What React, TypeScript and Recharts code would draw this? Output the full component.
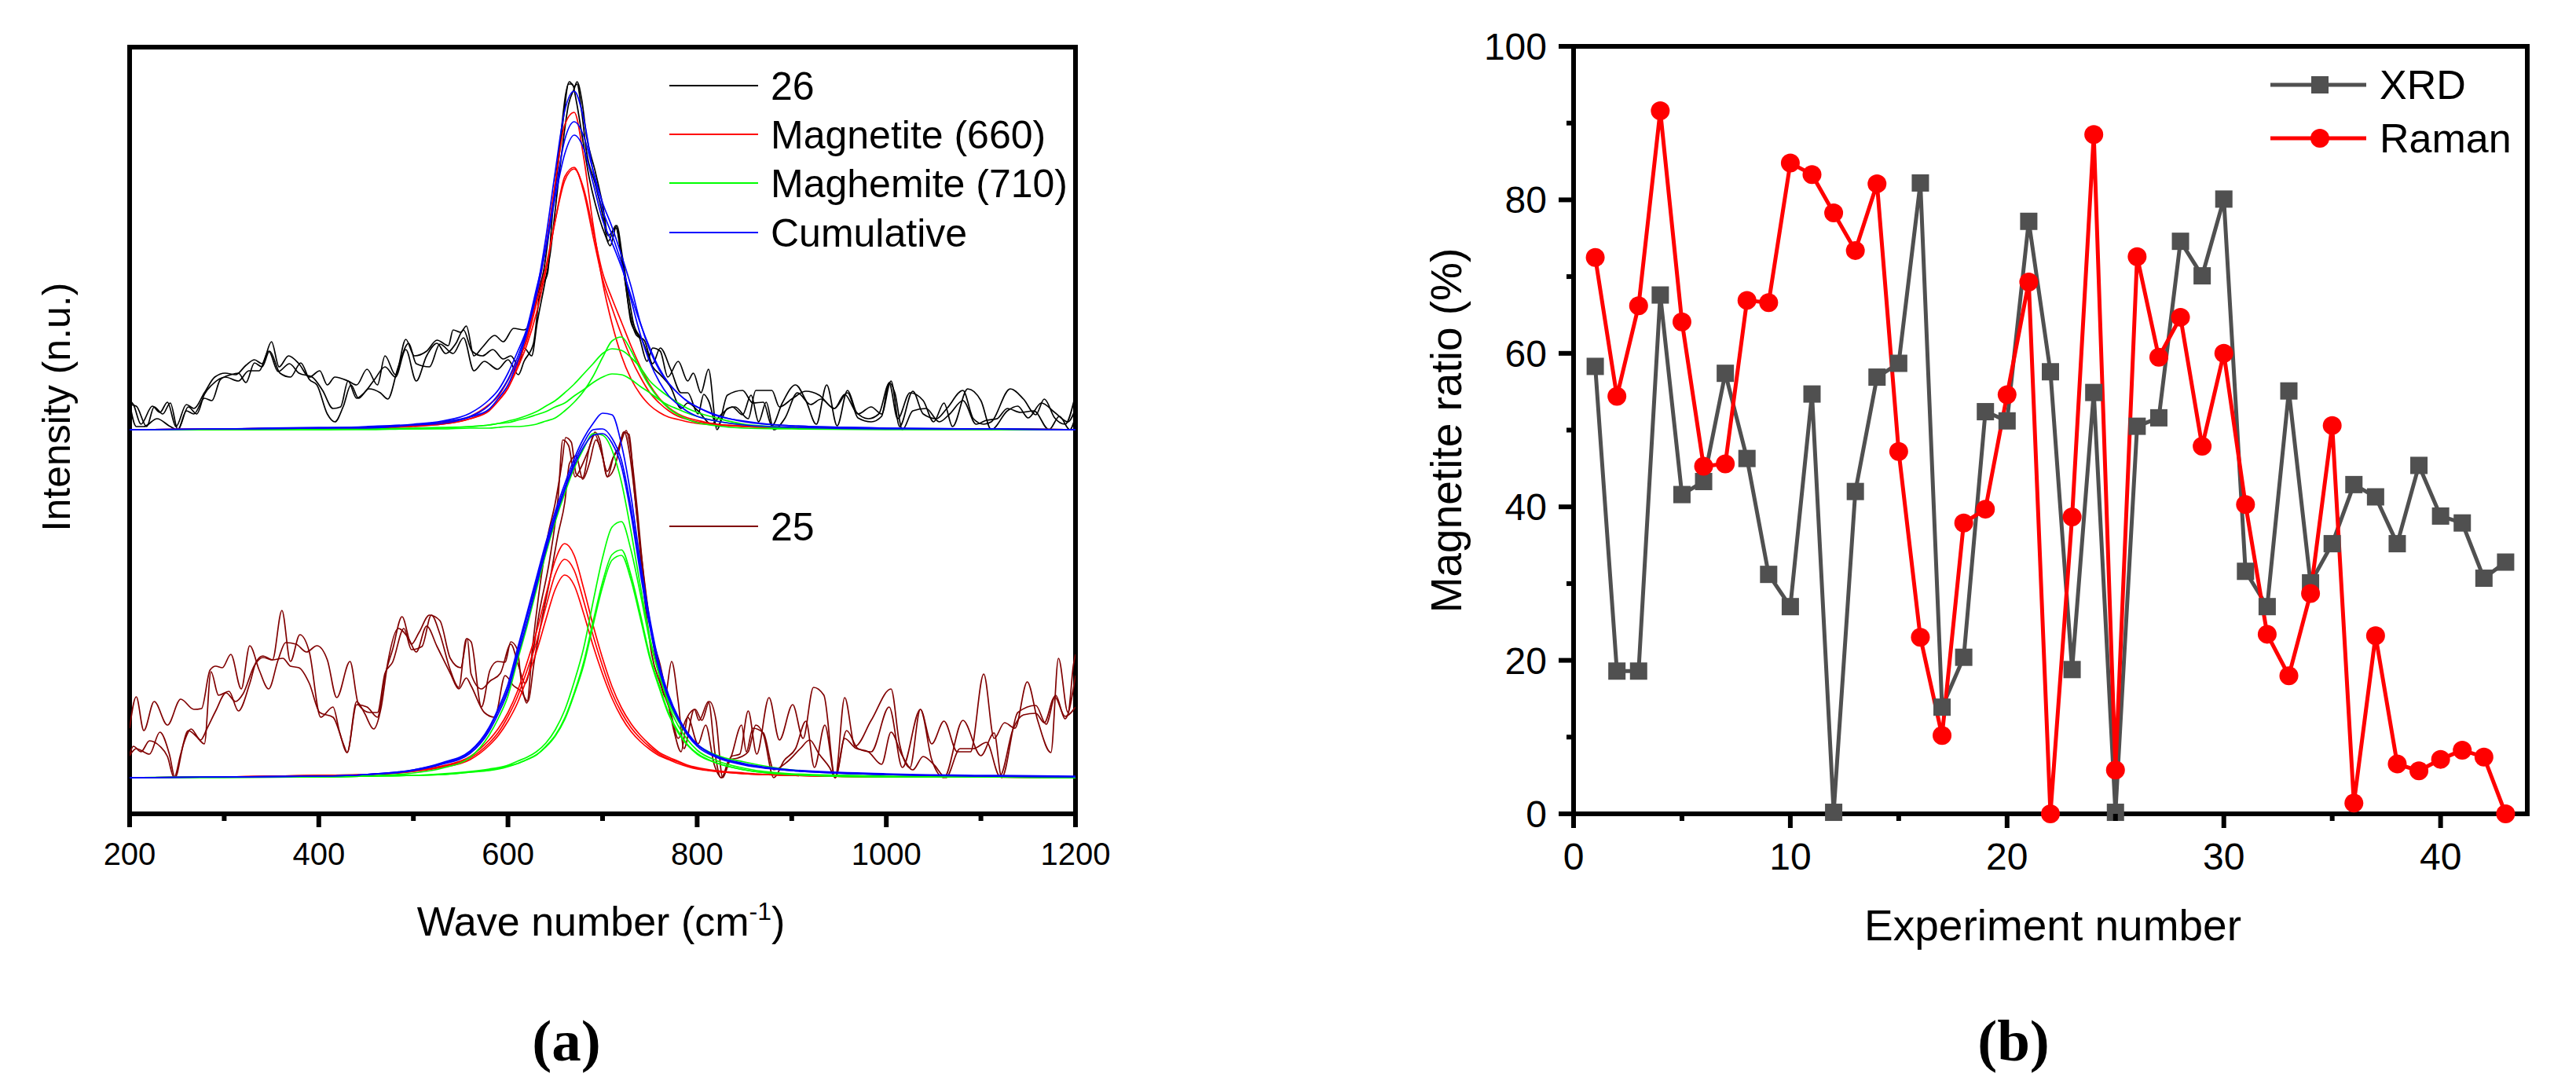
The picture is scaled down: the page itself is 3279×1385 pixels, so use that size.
import React from "react"
import { LineChart, Line, XAxis, YAxis, ReferenceArea } from "recharts"

const SANS = "'Liberation Sans', Arial, Helvetica, sans-serif"
const SERIF = "'Liberation Serif', 'Times New Roman', serif"

const BLACK = "#000000"
const DARKRED = "#800000"
const RED = "#ff0000"
const GREEN = "#00ff00"
const BLUE = "#0000ff"
const GRAY = "#505050"

// ---------- (a) Raman spectra: wave number (cm-1) vs intensity (arbitrary units) ----------
const waveTicks = [200, 300, 400, 500, 600, 700, 800, 900, 1000, 1100, 1200]

// measured spectra of sample 26 (three spots), [wave number, intensity]
const spec26a: [number, number][] = [
  [200, 526], [204, 521], [212, 496], [224, 519], [232, 511], [240, 524], [249, 493], [260, 521], [268, 516], [279, 536],
  [290, 556], [301, 561], [312, 559], [323, 571], [332, 578], [340, 573], [350, 601], [358, 569], [368, 583], [379, 573],
  [390, 556], [401, 564], [409, 546], [417, 556], [431, 551], [440, 546], [451, 566], [462, 546], [470, 583], [481, 559],
  [492, 604], [501, 583], [514, 589], [525, 603], [537, 596], [542, 616], [550, 613], [556, 621], [564, 583], [573, 594],
  [586, 609], [595, 601], [606, 618], [617, 616], [625, 629], [631, 659], [638, 693], [645, 756], [650, 803], [656, 866],
  [661, 916], [665, 932], [670, 926], [673, 929], [678, 893], [683, 843], [692, 803], [700, 763], [706, 729], [714, 749],
  [719, 716], [725, 669], [730, 626], [739, 606], [747, 576], [753, 593], [761, 589], [769, 556], [780, 576], [790, 551],
  [796, 561], [804, 536], [812, 566], [821, 489], [832, 533], [848, 539], [859, 523], [870, 524], [879, 494], [890, 523],
  [904, 546], [915, 526], [926, 496], [937, 546], [948, 494], [959, 539], [970, 509], [984, 518], [995, 509], [1005, 551],
  [1014, 493], [1028, 538], [1039, 509], [1053, 503], [1064, 516], [1081, 539], [1092, 503], [1103, 496], [1111, 499], [1131, 541],
  [1145, 528], [1158, 508], [1167, 528], [1178, 504], [1189, 496], [1200, 534],
]
const spec26b: [number, number][] = [
  [200, 521], [207, 519], [218, 493], [226, 518], [235, 509], [243, 523], [251, 489], [262, 518], [271, 509], [279, 534],
  [287, 546], [301, 556], [315, 551], [326, 564], [337, 564], [347, 589], [357, 563], [369, 573], [379, 561], [393, 556],
  [404, 539], [415, 516], [423, 518], [431, 551], [440, 529], [448, 536], [459, 553], [470, 569], [481, 556], [492, 591],
  [503, 551], [514, 583], [525, 599], [534, 586], [545, 599], [553, 616], [562, 589], [573, 583], [584, 591], [595, 579],
  [603, 583], [611, 571], [617, 593], [625, 583], [631, 626], [639, 676], [645, 716], [650, 769], [657, 843], [664, 903],
  [670, 923], [673, 932], [678, 909], [683, 863], [692, 819], [700, 776], [706, 736], [714, 746], [721, 703], [728, 643],
  [736, 609], [744, 603], [753, 573], [761, 593], [772, 566], [783, 536], [790, 536], [801, 509], [807, 534], [812, 526],
  [821, 493], [832, 516], [840, 518], [854, 503], [862, 539], [879, 539], [887, 518], [901, 529], [915, 538], [929, 533],
  [945, 516], [956, 534], [967, 513], [981, 503], [992, 509], [1003, 548], [1012, 503], [1025, 536], [1039, 526], [1050, 499],
  [1061, 523], [1070, 493], [1086, 541], [1100, 526], [1111, 489], [1128, 513], [1139, 519], [1150, 504], [1164, 523], [1178, 511],
  [1192, 499], [1200, 516],
]
const spec26c: [number, number][] = [
  [200, 523], [207, 493], [215, 493], [229, 503], [243, 493], [251, 489], [260, 513], [268, 509], [279, 529], [287, 526],
  [296, 553], [307, 559], [315, 561], [323, 549], [332, 574], [340, 569], [348, 589], [359, 561], [370, 556], [381, 574],
  [390, 553], [398, 546], [409, 509], [417, 499], [426, 519], [434, 546], [442, 529], [453, 541], [465, 536], [473, 528],
  [484, 569], [495, 599], [503, 573], [517, 569], [528, 598], [542, 586], [553, 606], [564, 564], [575, 576], [589, 566],
  [600, 578], [611, 559], [617, 576], [627, 599], [634, 666], [642, 689], [647, 763], [653, 826], [659, 889], [664, 929],
  [668, 929], [672, 909], [678, 866], [686, 809], [694, 769], [703, 736], [708, 723], [715, 749], [721, 709], [728, 656],
  [733, 623], [742, 603], [753, 569], [761, 559], [772, 543], [783, 516], [790, 523], [801, 513], [815, 496], [826, 509],
  [837, 518], [848, 508], [857, 533], [865, 499], [873, 524], [881, 489], [893, 504], [906, 536], [920, 521], [931, 528],
  [945, 516], [959, 536], [970, 504], [984, 499], [995, 506], [1003, 549], [1009, 536], [1017, 489], [1028, 513], [1042, 516],
  [1056, 499], [1067, 509], [1081, 526], [1095, 496], [1106, 501], [1117, 503], [1128, 516], [1142, 511], [1156, 513], [1172, 489],
  [1183, 506], [1194, 489], [1200, 506],
]

// measured spectra of sample 25 (three spots)
const spec25a: [number, number][] = [
  [200, 109], [207, 149], [215, 106], [226, 143], [240, 113], [254, 146], [268, 133], [276, 134], [285, 183], [291, 188],
  [298, 186], [307, 203], [318, 159], [327, 214], [337, 183], [347, 159], [357, 196], [365, 218], [376, 216], [387, 206],
  [398, 214], [409, 196], [419, 148], [433, 194], [442, 139], [454, 129], [462, 129], [470, 179], [478, 193], [490, 236],
  [498, 209], [509, 213], [519, 253], [528, 229], [539, 183], [548, 161], [556, 223], [561, 219], [572, 136], [581, 183],
  [589, 194], [597, 193], [603, 219], [610, 209], [614, 169], [620, 141], [626, 213], [633, 283], [642, 353], [650, 396],
  [657, 446], [661, 479], [667, 473], [672, 433], [679, 428], [686, 466], [692, 486], [697, 476], [705, 429], [712, 456],
  [718, 468], [725, 488], [729, 469], [736, 396], [744, 296], [752, 229], [761, 189], [769, 143], [776, 103], [783, 79],
  [790, 124], [798, 133], [805, 119], [813, 143], [820, 119], [827, 46], [836, 73], [845, 76], [854, 131], [863, 76],
  [876, 148], [887, 94], [901, 139], [912, 96], [923, 161], [934, 151], [946, 46], [956, 148], [967, 86], [984, 119],
  [1005, 159], [1014, 89], [1025, 59], [1036, 133], [1048, 89], [1061, 118], [1075, 79], [1089, 79], [1103, 178], [1114, 96],
  [1125, 116], [1136, 109], [1149, 168], [1160, 119], [1174, 78], [1182, 198], [1192, 129], [1198, 191], [1200, 203],
]
const spec25b: [number, number][] = [
  [200, 76], [204, 86], [212, 79], [221, 93], [232, 86], [240, 73], [247, 46], [254, 76], [262, 106], [271, 98],
  [279, 89], [286, 181], [294, 151], [305, 156], [315, 131], [327, 166], [334, 194], [341, 201], [351, 196], [361, 259],
  [370, 194], [380, 228], [390, 206], [402, 123], [415, 136], [422, 104], [430, 78], [440, 139], [451, 136], [462, 123],
  [470, 176], [478, 209], [488, 251], [498, 216], [506, 231], [517, 253], [528, 246], [539, 198], [550, 186], [557, 223],
  [561, 178], [572, 159], [581, 169], [592, 179], [603, 216], [611, 189], [618, 166], [625, 196], [633, 256], [644, 323],
  [653, 403], [658, 476], [664, 469], [671, 429], [678, 443], [685, 463], [692, 483], [698, 463], [705, 436], [711, 453],
  [716, 463], [723, 486], [728, 463], [736, 383], [744, 279], [752, 203], [761, 166], [772, 129], [780, 96], [790, 123],
  [801, 89], [809, 113], [818, 63], [826, 46], [834, 69], [843, 71], [854, 79], [862, 113], [870, 101], [881, 46],
  [892, 68], [904, 83], [915, 118], [924, 59], [935, 113], [946, 46], [958, 106], [970, 83], [984, 79], [1003, 136],
  [1017, 59], [1036, 133], [1048, 69], [1061, 46], [1081, 119], [1100, 74], [1114, 103], [1122, 46], [1139, 129], [1158, 138],
  [1169, 114], [1179, 151], [1189, 121], [1200, 176],
]
const spec25c: [number, number][] = [
  [200, 74], [207, 83], [221, 76], [232, 104], [242, 76], [248, 46], [257, 89], [265, 108], [275, 94], [282, 109],
  [291, 131], [302, 154], [312, 143], [320, 153], [332, 189], [341, 199], [351, 196], [362, 198], [370, 188], [379, 186],
  [390, 166], [401, 129], [415, 123], [426, 89], [430, 78], [440, 143], [448, 129], [458, 108], [466, 136], [473, 193],
  [484, 236], [495, 223], [503, 206], [514, 239], [525, 213], [539, 179], [548, 159], [556, 173], [561, 163], [575, 129],
  [586, 123], [597, 176], [606, 163], [614, 156], [621, 143], [628, 196], [636, 249], [644, 296], [653, 356], [660, 396],
  [665, 446], [672, 456], [679, 426], [686, 446], [693, 476], [700, 456], [705, 429], [712, 439], [718, 466], [722, 486],
  [728, 483], [734, 406], [743, 309], [751, 236], [760, 176], [766, 149], [773, 194], [780, 143], [786, 83], [797, 133],
  [802, 119], [812, 143], [819, 76], [825, 46], [836, 73], [847, 113], [852, 79], [859, 109], [870, 103], [881, 56],
  [895, 66], [909, 83], [919, 94], [929, 76], [940, 59], [946, 46], [956, 96], [967, 84], [981, 79], [995, 63],
  [1005, 104], [1016, 76], [1028, 56], [1039, 73], [1050, 63], [1063, 46], [1078, 83], [1092, 83], [1106, 91], [1120, 48],
  [1134, 108], [1145, 126], [1158, 128], [1167, 116], [1178, 149], [1189, 124], [1200, 136],
]

// fitted peaks, sampled at these wave numbers
const fitWave = [
  200, 300, 400, 450, 500, 530, 560, 580,
  590, 600, 610, 620, 630, 640, 650, 660, 670, 680, 690, 700, 710, 720, 730, 740, 750, 760, 770, 780, 790, 800,
  820, 850, 900, 1000, 1100, 1200,
]

// sample 26
const mag26a = [489, 490, 491, 491, 494, 496, 503, 513, 526, 542, 571, 607, 656, 722, 803, 877, 893, 836, 750, 677, 624, 583, 554, 534, 520, 511, 505, 502, 499, 497, 495, 493, 491, 490, 490, 489]
const mag26b = [489, 490, 491, 491, 493, 496, 503, 514, 526, 542, 567, 597, 637, 691, 755, 811, 823, 792, 735, 681, 644, 610, 580, 556, 536, 523, 513, 506, 502, 499, 496, 493, 491, 490, 490, 489]
const mag26c = [489, 490, 491, 492, 495, 498, 506, 521, 532, 552, 576, 603, 649, 696, 756, 806, 821, 796, 743, 689, 656, 626, 596, 569, 546, 529, 517, 509, 504, 501, 496, 494, 492, 490, 490, 489]
const magh26a = [489, 489, 489, 489, 490, 490, 491, 491, 492, 493, 493, 494, 496, 500, 504, 513, 524, 538, 557, 581, 602, 607, 590, 565, 544, 528, 516, 508, 502, 498, 494, 491, 490, 489, 489, 489]
const magh26b = [489, 489, 490, 490, 491, 492, 493, 495, 497, 500, 503, 507, 512, 519, 526, 536, 547, 560, 573, 586, 592, 590, 581, 568, 551, 540, 531, 523, 516, 511, 504, 496, 492, 490, 490, 489]
const magh26c = [489, 489, 489, 490, 490, 491, 493, 495, 497, 498, 501, 504, 508, 512, 518, 523, 532, 540, 549, 556, 560, 559, 553, 544, 536, 527, 520, 515, 510, 506, 500, 495, 491, 490, 489, 489]
const cum26a = [489, 490, 491, 491, 495, 497, 505, 515, 529, 546, 575, 612, 663, 733, 818, 895, 920, 885, 818, 769, 737, 701, 655, 610, 575, 550, 532, 521, 512, 506, 500, 495, 492, 490, 490, 489]
const cum26b = [489, 490, 492, 492, 495, 499, 506, 520, 534, 553, 581, 615, 660, 721, 792, 858, 881, 863, 819, 778, 747, 711, 672, 625, 590, 565, 548, 535, 525, 518, 508, 499, 494, 491, 490, 489]
const cum26c = [489, 490, 491, 493, 496, 500, 510, 527, 540, 561, 588, 618, 668, 719, 785, 840, 864, 847, 803, 756, 727, 696, 660, 624, 593, 567, 548, 535, 525, 518, 507, 500, 494, 491, 490, 489]

// sample 25
const mag25a = [46, 47, 49, 50, 55, 61, 73, 94, 109, 129, 156, 192, 231, 278, 323, 344, 329, 287, 240, 198, 162, 135, 115, 100, 88, 78, 72, 67, 62, 59, 55, 52, 49, 47, 47, 46]
const mag25b = [46, 47, 49, 50, 54, 60, 71, 90, 104, 124, 149, 182, 218, 263, 305, 324, 310, 271, 227, 188, 154, 129, 110, 96, 85, 76, 70, 66, 61, 58, 54, 51, 49, 47, 47, 46]
const mag25c = [46, 47, 49, 50, 54, 59, 69, 87, 100, 118, 141, 172, 206, 247, 286, 304, 291, 255, 214, 178, 147, 123, 105, 92, 82, 74, 69, 64, 60, 57, 54, 51, 49, 47, 47, 46]
const magh25a = [46, 47, 47, 48, 49, 51, 54, 57, 59, 62, 67, 72, 79, 90, 107, 132, 168, 211, 270, 326, 365, 372, 336, 280, 220, 178, 138, 112, 94, 81, 68, 58, 51, 48, 47, 46]
const magh25b = [46, 47, 47, 48, 49, 50, 53, 56, 58, 61, 64, 69, 75, 86, 100, 122, 154, 193, 245, 295, 330, 336, 304, 254, 201, 163, 128, 105, 88, 77, 65, 56, 50, 47, 47, 46]
const magh25c = [46, 47, 47, 48, 49, 50, 53, 55, 57, 60, 64, 69, 75, 85, 99, 120, 152, 189, 240, 289, 323, 329, 298, 249, 198, 160, 126, 103, 87, 76, 65, 56, 50, 47, 47, 46]
const magh25d = [46, 46, 47, 48, 52, 58, 72, 100, 122, 150, 195, 238, 285, 331, 372, 408, 440, 465, 484, 482, 463, 422, 360, 290, 225, 176, 142, 118, 100, 88, 75, 66, 56, 50, 48, 47]
const cum25a = [46, 47, 48, 50, 56, 65, 80, 110, 135, 165, 210, 255, 300, 345, 385, 420, 452, 478, 497, 510, 508, 470, 405, 320, 248, 190, 151, 123, 103, 89, 74, 64, 56, 51, 49, 48]
const cum25b = [46, 47, 48, 50, 56, 64, 79, 108, 132, 160, 205, 250, 295, 340, 380, 415, 447, 472, 489, 490, 478, 450, 390, 312, 242, 186, 148, 121, 101, 88, 73, 63, 55, 50, 48, 47]
const cum25c = [46, 47, 48, 50, 55, 63, 77, 105, 128, 156, 200, 243, 290, 335, 376, 412, 443, 467, 482, 484, 472, 442, 382, 306, 238, 183, 146, 120, 100, 86, 72, 62, 55, 50, 48, 47]

const spectrumLegend = [
  { label: "26", color: BLACK, y: 109 },
  { label: "Magnetite (660)", color: RED, y: 171 },
  { label: "Maghemite (710)", color: GREEN, y: 233 },
  { label: "Cumulative", color: BLUE, y: 296 },
  { label: "25", color: DARKRED, y: 670 },
]

// ---------- (b) magnetite ratio per experiment ----------
const experiment = [
  1, 2, 3, 4, 5, 6, 7, 8, 9, 10, 11, 12, 13, 14, 15, 16, 17, 18, 19, 20, 21, 22,
  23, 24, 25, 26, 27, 28, 29, 30, 31, 32, 33, 34, 35, 36, 37, 38, 39, 40, 41, 42, 43,
]
const xrdRatio = [
  58.3, 18.6, 18.6, 67.6, 41.6, 43.3, 57.4, 46.3, 31.2, 27.0, 54.7, 0.2, 42.0, 56.9, 58.7, 82.2, 13.9, 20.4, 52.4, 51.2, 77.2, 57.6,
  18.8, 54.9, 0.2, 50.5, 51.6, 74.6, 70.1, 80.1, 31.6, 27.0, 55.1, 30.1, 35.2, 42.9, 41.3, 35.2, 45.4, 38.8, 37.9, 30.7, 32.8,
]
const ramanRatio = [
  72.5, 54.4, 66.2, 91.6, 64.1, 45.3, 45.6, 66.9, 66.6, 84.8, 83.3, 78.3, 73.4, 82.1, 47.2, 23.0, 10.2, 37.9, 39.7, 54.6, 69.3, 0,
  38.7, 88.5, 5.7, 72.6, 59.5, 64.7, 47.9, 60.0, 40.3, 23.4, 18.0, 28.7, 50.6, 1.4, 23.2, 6.5, 5.6, 7.1, 8.3, 7.4, 0,
]
const expTicks = [0, 5, 10, 15, 20, 25, 30, 35, 40]
const ratioTicks = [0, 10, 20, 30, 40, 50, 60, 70, 80, 90, 100]

// ---------- derived tables ----------
const pairPts = (p: [number, number][]) => p.map(([x, y]) => ({ x, y }))
const fitPts = (v: number[]) => fitWave.map((x, i) => ({ x, y: v[i] }))

const spectrumLines = [
  ...[spec26a, spec26b, spec26c].map((p) => ({ pts: pairPts(p), color: BLACK })),
  ...[mag26a, mag26b, mag26c].map((v) => ({ pts: fitPts(v), color: RED })),
  ...[magh26a, magh26b, magh26c].map((v) => ({ pts: fitPts(v), color: GREEN })),
  ...[cum26a, cum26b, cum26c].map((v) => ({ pts: fitPts(v), color: BLUE })),
  ...[spec25a, spec25b, spec25c].map((p) => ({ pts: pairPts(p), color: DARKRED })),
  ...[mag25a, mag25b, mag25c].map((v) => ({ pts: fitPts(v), color: RED })),
  ...[magh25a, magh25b, magh25c, magh25d].map((v) => ({ pts: fitPts(v), color: GREEN })),
  ...[cum25a, cum25b, cum25c].map((v) => ({ pts: fitPts(v), color: BLUE })),
]

const ratioRows = experiment.map((n, i) => ({ n, xrd: xrdRatio[i], raman: ramanRatio[i] }))

// ---------- ticks (tickSize/tickMargin are 0, so x/y sit on the axis line) ----------
function WaveTick(props: any) {
  const { x, y, payload } = props
  const major = payload.value % 200 === 0
  return (
    <g>
      <line x1={x} x2={x} y1={y} y2={y + (major ? 17 : 9)} stroke="#000" strokeWidth={6} />
      {major ? (
        <text x={x} y={y + 65} textAnchor="middle" fontSize={40} fontFamily={SANS} fill="#000">
          {payload.value}
        </text>
      ) : null}
    </g>
  )
}

function ExpTick(props: any) {
  const { x, y, payload } = props
  const major = payload.value % 10 === 0
  return (
    <g>
      <line x1={x} x2={x} y1={y} y2={y + (major ? 18 : 9)} stroke="#000" strokeWidth={6} />
      {major ? (
        <text x={x} y={y + 71} textAnchor="middle" fontSize={48} fontFamily={SANS} fill="#000">
          {payload.value}
        </text>
      ) : null}
    </g>
  )
}

function RatioTick(props: any) {
  const { x, y, payload } = props
  const major = payload.value % 20 === 0
  return (
    <g>
      <line x1={x - (major ? 19 : 9)} x2={x} y1={y} y2={y} stroke="#000" strokeWidth={6} />
      {major ? (
        <text x={x - 34} y={y + 17} textAnchor="end" fontSize={48} fontFamily={SANS} fill="#000">
          {payload.value}
        </text>
      ) : null}
    </g>
  )
}

const squareDot = (p: any) => {
  if (p.cx == null || p.cy == null) return <g key={`sq-${p.index}`} />
  return <rect key={`sq-${p.index}`} x={p.cx - 11} y={p.cy - 11} width={22} height={22} fill={GRAY} />
}

export default function App() {
  return (
    <div style={{ position: "absolute", left: 0, top: 0, width: 3279, height: 1385, background: "#fff", overflow: "hidden" }}>
      <div style={{ position: "absolute", left: 0, top: 0 }}>
        <LineChart width={1640} height={1385} margin={{ top: 60, right: 271, bottom: 289, left: 105 }}>
          <XAxis
            type="number"
            dataKey="x"
            domain={[200, 1200]}
            ticks={waveTicks}
            interval={0}
            height={60}
            axisLine={false}
            tickLine={false}
            tickSize={0}
            tickMargin={0}
            tick={(p: any) => <WaveTick {...p} />}
            allowDataOverflow
          />
          <YAxis type="number" domain={[0, 976]} width={60} tick={false} axisLine={false} tickLine={false} allowDataOverflow />
          {spectrumLines.map((l, i) => (
            <Line
              key={i}
              data={l.pts}
              dataKey="y"
              type="monotone"
              stroke={l.color}
              strokeWidth={1.7}
              dot={false}
              activeDot={false}
              isAnimationActive={false}
            />
          ))}
          <ReferenceArea x1={200} x2={1200} y1={0} y2={976} fill="none" stroke="#000" strokeWidth={6} ifOverflow="visible" />
        </LineChart>
      </div>

      <div style={{ position: "absolute", left: 1640, top: 0 }}>
        <LineChart width={1639} height={1385} data={ratioRows} margin={{ top: 59, right: 62, bottom: 289, left: 303 }}>
          <XAxis
            type="number"
            dataKey="n"
            domain={[0, 44]}
            ticks={expTicks}
            interval={0}
            height={60}
            axisLine={false}
            tickLine={false}
            tickSize={0}
            tickMargin={0}
            tick={(p: any) => <ExpTick {...p} />}
          />
          <YAxis
            type="number"
            domain={[0, 100]}
            ticks={ratioTicks}
            interval={0}
            width={60}
            axisLine={false}
            tickLine={false}
            tickSize={0}
            tickMargin={0}
            tick={(p: any) => <RatioTick {...p} />}
          />
          <ReferenceArea x1={0} x2={44} y1={0} y2={100} fill="none" stroke="#000" strokeWidth={6} ifOverflow="visible" />
          <Line dataKey="xrd" type="linear" stroke={GRAY} strokeWidth={5} dot={squareDot} activeDot={false} isAnimationActive={false} />
          <Line
            dataKey="raman"
            type="linear"
            stroke={RED}
            strokeWidth={5}
            dot={{ r: 12, fill: RED, stroke: RED, strokeWidth: 0 }}
            activeDot={false}
            isAnimationActive={false}
          />
        </LineChart>
      </div>

      <svg width={3279} height={1385} style={{ position: "absolute", left: 0, top: 0, pointerEvents: "none" }}>
        {/* (a) legend */}
        {spectrumLegend.map((r) => (
          <g key={r.label}>
            <line x1={852} x2={965} y1={r.y} y2={r.y} stroke={r.color} strokeWidth={2} />
            <text x={981} y={r.y + 18} fontSize={50} fontFamily={SANS} fill="#000">
              {r.label}
            </text>
          </g>
        ))}
        {/* (a) axis titles */}
        <text transform="translate(89,518) rotate(-90)" textAnchor="middle" fontSize={50} fontFamily={SANS} fill="#000">
          Intensity (n.u.)
        </text>
        <text x={765} y={1191} textAnchor="middle" fontSize={52} fontFamily={SANS} fill="#000">
          Wave number (cm
          <tspan dy={-20} fontSize={32}>
            -1
          </tspan>
          <tspan dy={20}>)</tspan>
        </text>
        <text x={721} y={1350} textAnchor="middle" fontSize={75} fontWeight="bold" fontFamily={SERIF} fill="#000">
          (a)
        </text>

        {/* (b) legend */}
        <line x1={2890} x2={3012} y1={108} y2={108} stroke={GRAY} strokeWidth={5} />
        <rect x={2942} y={97} width={22} height={22} fill={GRAY} />
        <text x={3029} y={126} fontSize={52} fontFamily={SANS} fill="#000">
          XRD
        </text>
        <line x1={2890} x2={3012} y1={176} y2={176} stroke={RED} strokeWidth={5} />
        <circle cx={2953} cy={176} r={12} fill={RED} />
        <text x={3029} y={194} fontSize={52} fontFamily={SANS} fill="#000">
          Raman
        </text>
        {/* (b) axis titles */}
        <text transform="translate(1860,548) rotate(-90)" textAnchor="middle" fontSize={55} fontFamily={SANS} fill="#000">
          Magnetite ratio (%)
        </text>
        <text x={2613} y={1197} textAnchor="middle" fontSize={55} fontFamily={SANS} fill="#000">
          Experiment number
        </text>
        <text x={2563} y={1350} textAnchor="middle" fontSize={75} fontWeight="bold" fontFamily={SERIF} fill="#000">
          (b)
        </text>
      </svg>
    </div>
  )
}
